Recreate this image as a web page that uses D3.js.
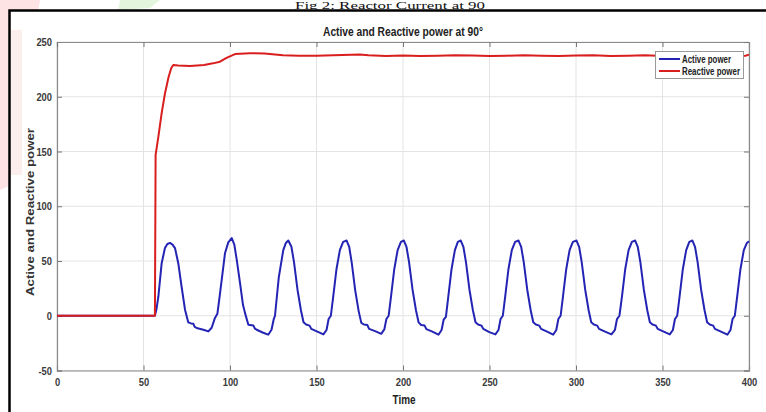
<!DOCTYPE html>
<html><head><meta charset="utf-8">
<script src="https://cdn.jsdelivr.net/npm/d3@7"></script>
<style>
html,body{margin:0;padding:0;background:#fff;}
svg{display:block;}
</style></head>
<body><svg id="c" width="766" height="412"></svg>
<script>
const xTicks = [0, 50, 100, 150, 200, 250, 300, 350, 400];
const yTicks = [-50, 0, 50, 100, 150, 200, 250];
const seriesNames = ["Active power", "Reactive power"];
const seriesColors = ["#2424b4", "#d91e1e"];

const activePower = [
 [0,0],[56.6,0],[57.5,6],[58.6,17.6],[60.5,48],[62.4,61.8],[63.8,65.5],[65.3,66.5],[66.8,65],[68.2,61.8],[70.1,48],[72,26.7],[74,5.5],[75.9,-6.1],[77.5,-7],[78.8,-7.3],[79.5,-10],[80.7,-11.2],[84.6,-12.8],[87.5,-14.3],[89.4,-11],[91.3,-2],[92.7,1.8],[93.8,15],[95.2,32.8],[97.1,57],[99,67],[101,70.9],
 [102.5,65],[103.9,51],[105.8,29.8],[107.5,10],[108.7,2.4],[110.6,-8.2],[113.5,-8.8],[114.3,-11.5],[115.4,-12.8],[119.2,-15.5],[122.1,-17.3],[124,-12.8],[125.3,-3],[126,0],[127,16],[128.2,35],[130.8,60],[132.3,66.5],[133.7,68.7],
 [135.5,63],[137,49],[139,24],[141,5],[142.5,-6],[144,-8],[146,-9],[147,-12],[150.5,-14.5],[154,-17],[155.8,-13],[157,-3],[158.3,0],[159.7,18],[161.5,42],[163.5,60],[165.4,67.5],[167.4,68.7],
 [168.9,63],[170.4,48],[172.4,23],[174.4,4],[175.9,-6.5],[177.4,-8],[179.4,-8.5],[180.4,-12],[183.9,-14],[187.4,-16.5],[189.2,-12.5],[190.4,-3],[191.7,0],[193.1,18],[194.9,42],[196.9,60],[198.8,67.5],[200.5,68.7],
 [202,63],[203.5,49],[205.5,24],[207.5,5],[209,-6],[210.5,-8.5],[212.5,-9],[213.5,-12.2],[217,-14.5],[220.5,-17.3],[222.3,-13],[223.5,-3.6],[224.8,-1],[226.2,17.6],[228,42],[230,60],[231.7,67.5],[233.4,68.7],
 [234.9,63],[236.4,49],[238.4,24],[240.4,5],[241.9,-6],[243.4,-8],[245.4,-9],[246.4,-12],[249.9,-15],[253.4,-17],[255.2,-13],[256.4,-3],[257.7,0],[259.1,18],[260.9,42],[262.9,60],[264.8,67.5],[266.8,68.7],
 [268.3,63],[269.8,49],[271.8,24],[273.8,5],[275.3,-6],[276.8,-8],[278.8,-9],[279.8,-12],[283.3,-14.5],[286.8,-17.3],[288.6,-13],[289.8,-3],[291.1,0],[292.5,18],[294.3,42],[296.3,60],[298.2,67.5],[300.3,68.7],
 [301.8,63],[303.3,49],[305.3,24],[307.3,5],[308.8,-6],[310.3,-8],[312.3,-9],[313.3,-12],[316.8,-14.5],[320.5,-17],[322.5,-13],[323.7,-3],[325.1,0],[326.6,18],[328.4,42],[330.4,60],[332.3,67.5],[334.2,68.7],
 [335.7,63],[337.2,49],[339.2,24],[341.2,5],[342.7,-6],[344.2,-8],[346.2,-9],[347.2,-12],[350.7,-14.5],[354.2,-17],[356,-13],[357.2,-3],[358.5,0],[359.9,18],[361.7,42],[363.7,60],[365.5,67.5],[367.3,68.7],
 [368.8,63],[370.3,49],[372.3,24],[374.3,5],[375.8,-6],[377.3,-8],[379.3,-9],[380.3,-12],[383.8,-14.5],[387.5,-17.3],[389.3,-13],[390.5,-3],[391.8,0],[393.2,18],[395,42],[397,60],[398.8,66.5],[400,68]
];

const reactivePower = [
 [0,0],[56.6,0],[57,147],[58.6,163.6],[60.5,185],[62.4,203],[64.5,218],[66,226],[67.2,229],[70,228.5],[76.9,228],[85,229],[90.2,230.5],[94.2,232],[98,235.5],[102.9,239],[111.6,239.7],[120,239.5],[130.6,238],[140,237.5],
 [150,237.5],[160,237.8],[170,238.3],[175,238.6],[180,237.8],[190,237.2],[200,237.6],[210,237.3],[220,237.5],[230,238],[240,237.6],[250,237.2],[260,237.5],[270,237.9],[280,237.4],[290,237.2],[300,237.6],[310,237.8],[320,237.3],[330,237.5],[340,237.9],[350,237.3],[360,237.4],[370,237.8],[380,237.5],[390,237.3],[398,237.5],[400,238.5]
];

const FONT = "'Liberation Sans', Arial, sans-serif";
function condense(sel, f) {
  sel.each(function() {
    const w = this.getComputedTextLength();
    if (w > 0) d3.select(this).attr("textLength", w * f).attr("lengthAdjust", "spacingAndGlyphs");
  });
}

const svg = d3.select("#c");
const L = 57, R = 749, T = 42, B = 370.5;
const x = d3.scaleLinear().domain([0, 400]).range([L, R]);
const y = d3.scaleLinear().domain([-50, 250]).range([B, T]);

// faint watermark tints
svg.append("path").attr("d","M0,0 L40,0 L30,60 L22,180 L0,190 Z").attr("fill","#fde3e3");
svg.append("path").attr("d","M120,0 L160,0 L150,8 L118,10 Z").attr("fill","#e3f5dd");

// outer frame
svg.append("rect").attr("x", 9.5).attr("y", 10.5).attr("width", 770).attr("height", 420)
  .attr("fill","#fff").attr("stroke","#000").attr("stroke-width",2.5);
svg.append("path").attr("d","M11,30 L22,30 L22,175 L11,175 Z").attr("fill","#fdeeee");

// header text of the source page
svg.append("text").attr("x", 390).attr("y", 9.3).attr("text-anchor","middle")
  .attr("font-family","'Liberation Serif','Times New Roman',serif").attr("font-size",10.5)
  .attr("textLength",190).attr("lengthAdjust","spacingAndGlyphs")
  .attr("fill","#111").text("Fig 2: Reactor Current at 90");

// grid
const g = svg.append("g");
g.selectAll(".gx").data(xTicks).enter().append("line")
  .attr("x1", d=>x(d)).attr("x2", d=>x(d)).attr("y1", T).attr("y2", B)
  .attr("stroke","#e3e3e3").attr("stroke-width",1);
g.selectAll(".gy").data(yTicks).enter().append("line")
  .attr("y1", d=>y(d)).attr("y2", d=>y(d)).attr("x1", L).attr("x2", R)
  .attr("stroke","#e3e3e3").attr("stroke-width",1);

// axes
const fmt = d => String(d);
const ax = svg.append("g").attr("transform",`translate(0,${B})`)
  .call(d3.axisBottom(x).tickValues(xTicks).tickFormat(fmt).tickSize(-5).tickPadding(8));
const ay = svg.append("g").attr("transform",`translate(${L},0)`)
  .call(d3.axisLeft(y).tickValues(yTicks).tickFormat(fmt).tickSize(-5).tickPadding(5));
const axT = svg.append("g").attr("transform",`translate(0,${T})`)
  .call(d3.axisTop(x).tickValues(xTicks).tickSize(-5).tickFormat(""));
const ayR = svg.append("g").attr("transform",`translate(${R},0)`)
  .call(d3.axisRight(y).tickValues(yTicks).tickSize(-5).tickFormat(""));
[ax, ay, axT, ayR].forEach(a => {
  a.select(".domain").attr("stroke","#8a8a8a").attr("stroke-width",1.2);
  a.selectAll(".tick line").attr("stroke","#777");
  a.selectAll("text").attr("font-family", FONT).attr("font-size",11).attr("fill","#3a3a3a").attr("font-weight","bold");
});
condense(ax.selectAll("text"), 0.85);
condense(ay.selectAll("text"), 0.85);

// lines
const line = d3.line().x(d=>x(d[0])).y(d=>y(d[1]));
svg.append("path").datum(activePower).attr("d", line).attr("fill","none")
  .attr("stroke", seriesColors[0]).attr("stroke-width",2).attr("stroke-linejoin","round");
svg.append("path").datum(reactivePower).attr("d", line).attr("fill","none")
  .attr("stroke", seriesColors[1]).attr("stroke-width",2).attr("stroke-linejoin","round");

// title and labels
svg.append("text").attr("x", 403).attr("y", 36).attr("text-anchor","middle")
  .attr("font-family", FONT).attr("font-size",12).attr("font-weight","bold").attr("fill","#222")
  .attr("textLength",160).attr("lengthAdjust","spacingAndGlyphs")
  .text("Active and Reactive power at 90°");
svg.append("text").attr("x", 404).attr("y", 404).attr("text-anchor","middle")
  .attr("font-family", FONT).attr("font-size",12).attr("font-weight","bold").attr("fill","#222")
  .attr("textLength",23).attr("lengthAdjust","spacingAndGlyphs").text("Time");
svg.append("text").attr("transform","translate(34,212) rotate(-90)").attr("text-anchor","middle")
  .attr("font-family", FONT).attr("font-size",11.5).attr("font-weight","bold").attr("fill","#333")
  .attr("textLength",168).attr("lengthAdjust","spacingAndGlyphs").text("Active and Reactive power");

// legend
const lg = svg.append("g");
lg.append("rect").attr("x",655.5).attr("y",51.5).attr("width",88).attr("height",27)
  .attr("fill","#fff").attr("stroke","#999").attr("stroke-width",1);
const legendLen = [49, 58];
seriesNames.forEach((n,i) => {
  const yy = 59 + i*12;
  lg.append("line").attr("x1",659).attr("x2",680).attr("y1",yy).attr("y2",yy)
    .attr("stroke",seriesColors[i]).attr("stroke-width",2);
  lg.append("text").attr("x",682).attr("y",yy+3.5)
    .attr("font-family", FONT).attr("font-size",10).attr("font-weight","bold").attr("fill","#222")
    .attr("textLength",legendLen[i]).attr("lengthAdjust","spacingAndGlyphs").text(n);
});
</script></body></html>
